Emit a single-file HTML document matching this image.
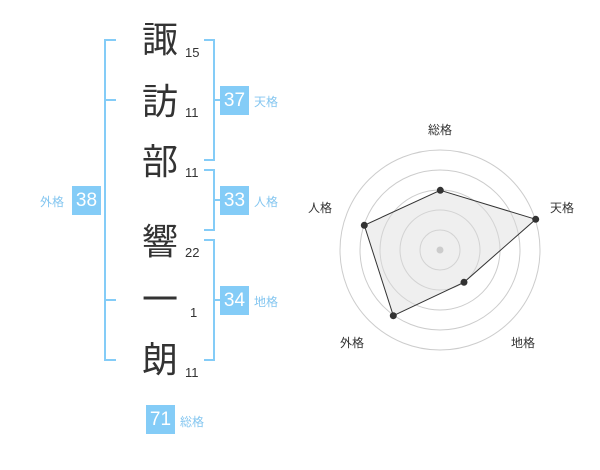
<!DOCTYPE html>
<html><head><meta charset="utf-8"><style>
html,body{margin:0;padding:0;background:#fff;}
body{width:600px;height:470px;position:relative;overflow:hidden;font-family:"Liberation Sans","Noto Sans CJK JP",sans-serif;}
.k{position:absolute;left:140px;width:40px;text-align:center;font-size:36px;line-height:40px;color:#333;}
.n{position:absolute;font-size:13px;color:#333;line-height:14px;}
.b{position:absolute;width:29px;height:29px;background:#84ccf7;color:#fff;font-size:19px;line-height:29px;text-align:center;}
.l{position:absolute;font-size:12px;color:#84c6f0;line-height:14px;}
.line{position:absolute;background:#84ccf7;}
</style></head><body>
<div class="k" style="top:20px">諏</div>
<div class="k" style="top:82px">訪</div>
<div class="k" style="top:142px">部</div>
<div class="k" style="top:222px">響</div>
<div class="k" style="top:280px">一</div>
<div class="k" style="top:340px">朗</div>
<div class="n" style="left:185px;top:46px">15</div>
<div class="n" style="left:185px;top:106px">11</div>
<div class="n" style="left:185px;top:166px">11</div>
<div class="n" style="left:185px;top:246px">22</div>
<div class="n" style="left:190px;top:306px">1</div>
<div class="n" style="left:185px;top:366px">11</div>

<!-- left bracket -->
<div class="line" style="left:104px;top:39px;width:2px;height:322px"></div>
<div class="line" style="left:104px;top:39px;width:12px;height:2px"></div>
<div class="line" style="left:104px;top:99px;width:12px;height:2px"></div>
<div class="line" style="left:104px;top:299px;width:12px;height:2px"></div>
<div class="line" style="left:104px;top:359px;width:12px;height:2px"></div>
<!-- right brackets -->
<div class="line" style="left:213px;top:39px;width:2px;height:122px"></div>
<div class="line" style="left:204px;top:39px;width:11px;height:2px"></div>
<div class="line" style="left:204px;top:159px;width:11px;height:2px"></div>
<div class="line" style="left:213px;top:99px;width:8px;height:2px"></div>
<div class="line" style="left:213px;top:169px;width:2px;height:62px"></div>
<div class="line" style="left:204px;top:169px;width:11px;height:2px"></div>
<div class="line" style="left:204px;top:229px;width:11px;height:2px"></div>
<div class="line" style="left:213px;top:199px;width:8px;height:2px"></div>
<div class="line" style="left:213px;top:239px;width:2px;height:122px"></div>
<div class="line" style="left:204px;top:239px;width:11px;height:2px"></div>
<div class="line" style="left:204px;top:359px;width:11px;height:2px"></div>
<div class="line" style="left:213px;top:299px;width:8px;height:2px"></div>

<div class="b" style="left:220px;top:86px">37</div><div class="l" style="left:254px;top:95px">天格</div>
<div class="b" style="left:220px;top:186px">33</div><div class="l" style="left:254px;top:195px">人格</div>
<div class="b" style="left:220px;top:286px">34</div><div class="l" style="left:254px;top:295px">地格</div>
<div class="b" style="left:72px;top:186px">38</div><div class="l" style="left:40px;top:195px">外格</div>
<div class="b" style="left:146px;top:405px">71</div><div class="l" style="left:180px;top:415px">総格</div>

<svg style="position:absolute;left:0;top:0" width="600" height="470">
<g fill="none" stroke="#ccc" stroke-width="1">
<circle cx="440" cy="250" r="20"/><circle cx="440" cy="250" r="40"/><circle cx="440" cy="250" r="60"/><circle cx="440" cy="250" r="80"/><circle cx="440" cy="250" r="100"/>
</g>
<polygon points="440.3,190.3 535.7,219.3 464,282.3 393.3,315.7 364.3,225.3" fill="rgba(220,220,220,0.45)" stroke="#333" stroke-width="1"/>
<circle cx="440" cy="250" r="3.5" fill="#ccc"/>
<g fill="#333"><circle cx="440.3" cy="190.3" r="3.5"/><circle cx="535.7" cy="219.3" r="3.5"/><circle cx="464" cy="282.3" r="3.5"/><circle cx="393.3" cy="315.7" r="3.5"/><circle cx="364.3" cy="225.3" r="3.5"/></g>
<g font-size="12" fill="#333" text-anchor="middle" font-family="Liberation Sans,Noto Sans CJK JP,sans-serif">
<text x="440" y="134">総格</text>
<text x="562" y="212">天格</text>
<text x="523" y="347">地格</text>
<text x="352" y="347">外格</text>
<text x="320" y="212">人格</text>
</g>
</svg>
</body></html>
